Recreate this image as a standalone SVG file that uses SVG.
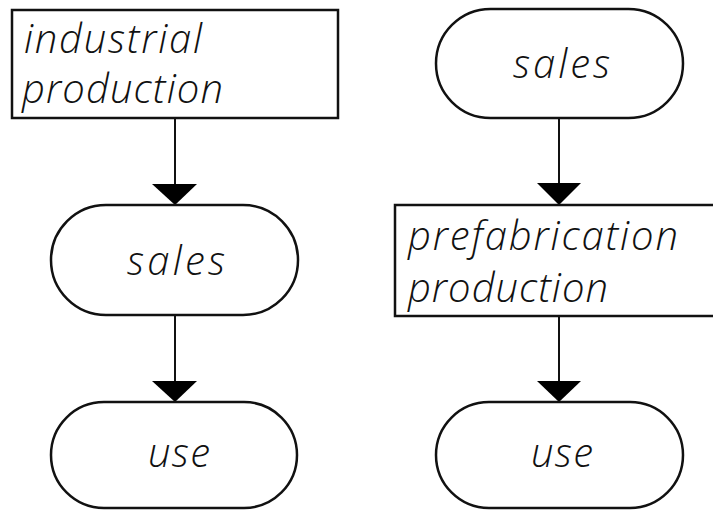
<svg xmlns="http://www.w3.org/2000/svg" width="713" height="511" viewBox="0 0 713 511">
  <defs>
    <style>
      .box { fill: #ffffff; stroke: #111111; stroke-width: 2.5; }
      .wire { stroke: #111111; stroke-width: 2; fill: none; }
      .head { fill: #000000; }
      .lbl { font-family: "Open Sans", "DejaVu Sans", sans-serif; font-style: italic; font-weight: 300; font-size: 40px; fill: #111111; }
    </style>
  </defs>
  <rect width="713" height="511" fill="#ffffff"/>

  <!-- connectors -->
  <g id="connectors">
    <line class="wire" x1="175" y1="119" x2="175" y2="190"/>
    <polygon class="head" points="152,184 197,184 175,205"/>
    <line class="wire" x1="175" y1="315" x2="175" y2="388"/>
    <polygon class="head" points="152,381 197,381 175,402"/>
    <line class="wire" x1="559" y1="118" x2="559" y2="190"/>
    <polygon class="head" points="537,183 581,183 559,205"/>
    <line class="wire" x1="559" y1="316" x2="559" y2="388"/>
    <polygon class="head" points="537,381 581,381 559,402"/>
  </g>

  <!-- left chain -->
  <g id="industrial-production">
    <rect class="box" x="12" y="10" width="326" height="108"/>
    <text class="lbl" x="24" y="53" textLength="178" lengthAdjust="spacing">industrial</text>
    <text class="lbl" x="22" y="103" textLength="201" lengthAdjust="spacing">production</text>
  </g>
  <g id="sales-left">
    <rect class="box" x="51" y="205" width="247" height="110" rx="55" ry="55"/>
    <text class="lbl" x="127" y="275" textLength="98" lengthAdjust="spacing">sales</text>
  </g>
  <g id="use-left">
    <rect class="box" x="51" y="402" width="246" height="106" rx="53" ry="53"/>
    <text class="lbl" x="148" y="467" textLength="62" lengthAdjust="spacing">use</text>
  </g>

  <!-- right chain -->
  <g id="sales-right">
    <rect class="box" x="436" y="9" width="247" height="109" rx="54.5" ry="54.5"/>
    <text class="lbl" x="513" y="78" textLength="97" lengthAdjust="spacing">sales</text>
  </g>
  <g id="prefabrication-production">
    <rect class="box" x="395" y="205" width="330" height="111"/>
    <text class="lbl" x="408" y="250" textLength="270" lengthAdjust="spacing">prefabrication</text>
    <text class="lbl" x="408" y="302" textLength="200" lengthAdjust="spacing">production</text>
  </g>
  <g id="use-right">
    <rect class="box" x="436" y="402" width="247" height="106" rx="53" ry="53"/>
    <text class="lbl" x="531" y="467" textLength="62" lengthAdjust="spacing">use</text>
  </g>
</svg>
